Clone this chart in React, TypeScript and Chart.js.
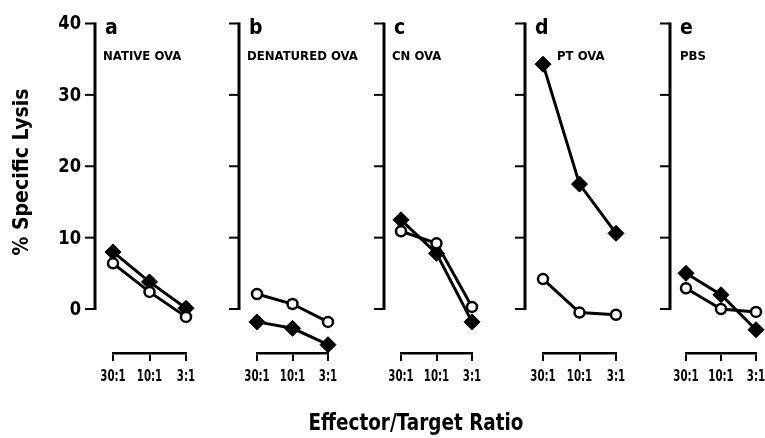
import React, { useEffect, useRef } from 'react';
import { Chart, registerables } from 'chart.js';
Chart.register(...registerables);

// ---- data ----
const ratioLabels = ['30:1', '10:1', '3:1'];
const panelLetters = ['a', 'b', 'c', 'd', 'e'];
const panelNames = ['NATIVE OVA', 'DENATURED OVA', 'CN OVA', 'PT OVA', 'PBS'];
const filledA = [8.0, 3.8, 0.1];
const openA = [6.4, 2.4, -1.1];
const filledB = [-1.8, -2.7, -5.0];
const openB = [2.1, 0.7, -1.8];
const filledC = [12.5, 7.8, -1.8];
const openC = [10.9, 9.2, 0.3];
const filledD = [34.3, 17.5, 10.6];
const openD = [4.2, -0.5, -0.8];
const filledE = [5.0, 2.0, -2.9];
const openE = [2.9, 0.0, -0.4];
const filledSeries = [filledA, filledB, filledC, filledD, filledE];
const openSeries = [openA, openB, openC, openD, openE];
const yTicks = [0, 10, 20, 30, 40];
const yTitle = '% Specific Lysis';
const xTitle = 'Effector/Target Ratio';

// ---- layout / style ----
const W = 765;
const H = 438;
const FONT = "'DejaVu Sans', 'Liberation Sans', sans-serif";
const panelAxisX = [95, 239, 384, 525, 670];
const panelLeft = [113, 257, 401, 543, 686];
const panelRight = [186, 328, 472, 616, 757];
const nameOffset = [8, 8, 8, 32, 10];
const Y_MIN = -6.16;
const Y_MAX = 40;
const TOP = 23.5;
const BRACKET_Y = 353;
const XAXIS_H = 40;

function drawText(
  ctx: CanvasRenderingContext2D,
  text: string,
  x: number,
  y: number,
  font: string,
  align: CanvasTextAlign,
  baseline: CanvasTextBaseline,
  sx: number,
  rot = 0
) {
  ctx.save();
  ctx.translate(x, y);
  if (rot) ctx.rotate(rot);
  ctx.scale(sx, 1);
  ctx.font = font;
  ctx.textAlign = align;
  ctx.textBaseline = baseline;
  ctx.fillText(text, 0, 0);
  ctx.restore();
}

function makePlugin(idx: number) {
  return {
    id: 'panelAxes' + idx,
    afterDraw(chart: any) {
      const ctx = chart.ctx;
      const ys = chart.scales.y;
      const xs = chart.scales.x;
      const ax = panelAxisX[idx];
      const yTop = ys.getPixelForValue(yTicks[yTicks.length - 1]);
      const yBot = ys.getPixelForValue(yTicks[0]);
      ctx.save();
      ctx.strokeStyle = '#000';
      ctx.fillStyle = '#000';
      ctx.lineWidth = 3;
      ctx.beginPath();
      ctx.moveTo(ax, yTop - 1);
      ctx.lineTo(ax, yBot + 1);
      ctx.stroke();
      ctx.lineWidth = 2;
      for (const t of yTicks) {
        const py = ys.getPixelForValue(t);
        ctx.beginPath();
        ctx.moveTo(ax - 10, py);
        ctx.lineTo(ax, py);
        ctx.stroke();
      }
      // x tick labels
      ratioLabels.forEach((lab, i) => {
        drawText(ctx, lab, xs.getPixelForValue(i), 377, 'bold 16px ' + FONT, 'center', 'middle', 0.64);
      });
      if (idx === 0) {
        for (const t of yTicks) {
          drawText(ctx, String(t), ax - 14, ys.getPixelForValue(t) + 1, 'bold 19px ' + FONT, 'right', 'middle', 0.86);
        }
        drawText(ctx, yTitle, 22, 172, 'bold 22px ' + FONT, 'center', 'middle', 0.86, -Math.PI / 2);
        drawText(ctx, xTitle, 416, 424, 'bold 23px ' + FONT, 'center', 'middle', 0.8);
      }
      drawText(ctx, panelLetters[idx], ax + 10, 34, 'bold 21px ' + FONT, 'left', 'alphabetic', 0.9);
      drawText(ctx, panelNames[idx], ax + nameOffset[idx], 60, 'bold 13px ' + FONT, 'left', 'alphabetic', 0.9);
      ctx.restore();
    },
  };
}

function Panel({ idx }: { idx: number }) {
  const ref = useRef<HTMLCanvasElement>(null);
  useEffect(() => {
    if (!ref.current) return;
    const chart = new Chart(ref.current, {
      type: 'line',
      data: {
        labels: ratioLabels,
        datasets: [
          {
            label: 'open',
            data: openSeries[idx],
            borderColor: '#000',
            borderWidth: 3,
            backgroundColor: '#fff',
            pointBackgroundColor: '#fff',
            pointBorderColor: '#000',
            pointBorderWidth: 2.5,
            pointStyle: 'circle',
            pointRadius: 5,
            tension: 0,
            clip: false as any,
          },
          {
            label: 'filled',
            data: filledSeries[idx],
            borderColor: '#000',
            borderWidth: 3,
            backgroundColor: '#000',
            pointBackgroundColor: '#000',
            pointBorderColor: '#000',
            pointBorderWidth: 1,
            pointStyle: 'rectRot',
            pointRadius: 8,
            tension: 0,
            clip: false as any,
          },
        ],
      },
      options: {
        animation: false,
        responsive: false,
        devicePixelRatio: 1,
        events: [],
        layout: {
          padding: {
            left: panelLeft[idx],
            right: W - panelRight[idx],
            top: TOP,
            bottom: H - BRACKET_Y - XAXIS_H,
          },
        },
        plugins: { legend: { display: false }, tooltip: { enabled: false }, title: { display: false } },
        scales: {
          x: {
            type: 'category',
            offset: false,
            afterFit: (s: any) => {
              s.height = XAXIS_H;
              s.paddingLeft = 0;
              s.paddingRight = 0;
            },
            grid: {
              display: true,
              drawOnChartArea: false,
              drawTicks: true,
              tickLength: 8,
              color: '#000',
              lineWidth: 2,
            },
            border: { display: true, color: '#000', width: 2.5 },
            ticks: { display: false, autoSkip: false },
          },
          y: { display: false, min: Y_MIN, max: Y_MAX },
        },
      },
      plugins: [makePlugin(idx)],
    } as any);
    return () => chart.destroy();
  }, [idx]);
  return (
    <canvas
      ref={ref}
      width={W}
      height={H}
      style={{ position: 'absolute', left: 0, top: 0, width: W, height: H }}
    />
  );
}

export default function App() {
  return (
    <div style={{ position: 'fixed', left: 0, top: 0, width: W, height: H, background: '#fff', overflow: 'hidden' }}>
      {[0, 1, 2, 3, 4].map((i) => (
        <Panel key={i} idx={i} />
      ))}
    </div>
  );
}
